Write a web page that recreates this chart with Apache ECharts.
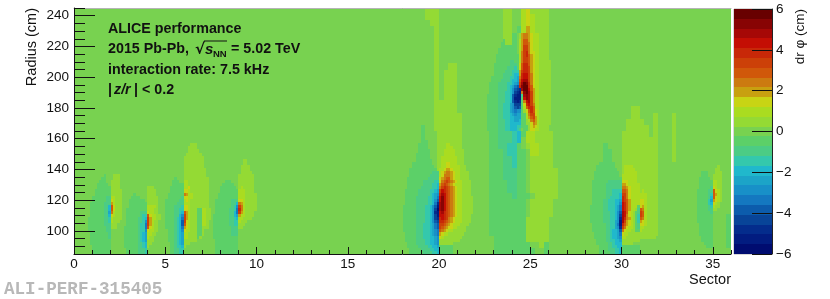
<!DOCTYPE html>
<html>
<head>
<meta charset="utf-8">
<style>html,body{margin:0;padding:0;background:#fff}#c{width:830px;height:299px}</style>
<script src="https://cdn.jsdelivr.net/npm/echarts@6/dist/echarts.min.js"></script>
</head>
<body>
<div id="c"></div>
<script>
// Axis ticks and labels
const sectorLabels = [0, 5, 10, 15, 20, 25, 30, 35];
const sectorMinorTicks = [0,1,2,3,4,5,6,7,8,9,10,11,12,13,14,15,16,17,18,19,20,21,22,23,24,25,26,27,28,29,30,31,32,33,34,35,36];
const radiusLabels = [100, 120, 140, 160, 180, 200, 220, 240];
const radiusMinorTicks = [85,90,95,100,105,110,115,120,125,130,135,140,145,150,155,160,165,170,175,180,185,190,195,200,205,210,215,220,225,230,235,240,245];
const drphiTicks = [-6, -4, -2, 0, 2, 4, 6];

// Colour bands of the z scale, one per 0.48 cm, from -12 to +12 bands
const bandWidth = 0.48;
const bandColors = ['#000c70','#021c80','#042c8c','#084498','#0c5cac','#1478c0','#1890c8','#1ca4c8','#20b8cc','#34c8ac','#4ccc84','#5cd068','#78d250','#94da34','#aadc20','#c8d414','#c8a010','#cc7a10','#d0580a','#cc4008','#c82808','#c40e04','#a60806','#880404','#680000'];

// Bin layout
const sectorMin = 0, sectorMax = 36, sectorStep = 0.125;
const radiusMin = 85, radiusMax = 245, radiusStep = 2;

// Values, in colour bands: '.' = 0, a..l = -1..-12, A..L = +1..+12.
// Each list is top row first, one character per sector bin.
const sector2Rows = [
".........a...AAA",
"........aa...AAA",
".......aaa..AAAA",
"......aaaaa.AAAA",
"......aaaaaaAAAA",
".....aaaaaaaAAAAA",
".....aaaaaaaAAAAA",
"....aaaaaabbBBAAA",
"....aaaaaabbCBAAA",
"...aaaaaabbbDBAAA",
"...aaaaaabbdFCAAA",
"...aaaaaabbdFCAAA",
"...aaaaaabbeEBAAA",
"...aaaaaabbdCBAAA",
"..aaaaaaabbcBAAAA",
"..aaaaaaabbcBAAA.",
"..aaaaaaabbbAAA..",
"..aaaaaaaabbAAA..",
"..aaaaaaaabb",
"...aaaaaaaab",
"...aaaaaaaab",
"...aaaaaaaaa",
"...aaaaaaaaa",
"....aaaaaaaa",
"....aaaaaaaa",
"....aaaaaaaa"];
const sector4Rows = [
"..........AAA",
"..........AAAA",
"....a.....AAAA",
"...aaaa...AAAAA",
"..aaaaaaa.AAAAA",
"..aaaaaaaaAAAAA",
"..aaaaaaaaBBBBA",
".aaaaaaaaaBBBAA",
".aaaaaabbbCBBAA",
".aaaaaabccFCBBAA",
".aaaaabbcdGDBBAA",
".aaaaabbcfGDBAA.",
".aaaaabccgGDBAA.",
"aaaaaabccgFCBAA.",
"aaaaaabccfCBBAA.",
"aaaaaabcdeBBAA..",
"aaaaaabcdeBAA...",
"aaaaaabcdeAAA...",
"aaaaaabbcdAA....",
"aaaaaabbcdA.....",
".aaaaabbbc......",
".aaaaabbbc......"];
const sector6Rows = [
"...........AAA",
"..........AAAA.",
"..........AAAAA",
".........AAAAAAA",
"........AAAAAAAAA",
"........AAAAAAAAA",
"........AAAAAAAAA",
"........AAAAAAAAA",
"........AAAAAAAAAA",
"........AAAAAAAAAA",
"........AAAAAAAAAA",
"....a...AAAAAAAAAAA",
"...aaa..BBAAAAAAAAA",
"...aaaaaBBAAAAAAAAA",
"..aaaaaaBBCAAAAAAAA",
"..aaaaaaCCBAAAAAAAA",
".aaaaaaaEDBBAAAAAAA",
".aaaaaabCCBBAAAAAAA",
"aaaaaabbBCBAAAAAAAA",
"aaaaabbbBBBAAAAAAAA",
"aaaabbbcCCBAAAAAAAA",
"aaaabbccCCBAAAaaBBAA",
"aaaabbcdFDBAAAaaBBAA",
"aaaabbdfGDBAAAaaBBAA",
"aaaabcdgGDBAAAaaBBAA",
"aaaabcdhGCBAAAaaBBA",
"aaaabcdhFCBAAAaaBBA",
"aaaabcdgDCBAAAaaAAA",
".aaabcdfCBBAAAaaA",
".aaabcdeBBAAAAaaA",
".aaabcdeBBAAAAaA",
".aaabcdeAAAAAA",
"..aabcdeAAA",
"..aabccdA",
"..aabbcc",
"..aabbcc"];
const sector9Rows = [
"..............AA",
"..............AA",
".............AAAA",
".............AAAA",
".............AAAAA",
"............AAAAAAA",
"............AAAAAAA",
"......aaa...AAAAAAA",
".....aaaaa..AAAAAAA",
"....aaaaaaa.ABAAAAA",
"....aaaaaaaaBBBAAAA",
"...aaaaaaaaaBBBAAAAA",
"...aaaaaaaaaBBBAAAAA",
"..aaaaaaabbbCCBAAAAA",
"..aaaaaaabbdEDBAAAAA",
"..aaaaaaabcfGEBAAAAA",
"..aaaaaabbcgHEBAAAAA",
"..aaaaaabbdgGDBAAAA",
".aaaaaaabbdeDBBAAAA",
".aaaaaaabbcdBBAAAA",
".aaaaaaabbccBAAA",
".aaaaaaabbccAAA",
".aaaaaaaabbbAA",
".aaaaaaaabbb",
".aaaaaaaabbb",
".aaaaaaaaaaa",
"..aaaaaaaaaa",
"..aaaaaaaaaa",
"..aaaaaaaaaa",
"..aaaaaaaaaa",
"..aaaaaaaaaa"];
// Upper part of sector 20, coarser bins (two sector bins, two radius bins per character)
const sector20UpperRows = [
".....AAA........",
".....AAA........",
"......AA........",
".......A........",
".......A........",
".......A........",
".......A........",
".......A........",
".......A........",
".......A..AA....",
".......A.AAA....",
".......A.AAA....",
".......A.AAA....",
".......A.AAA....",
".......A.AAA....",
".......AAAAA....",
".......AAAAA....",
".......AAAAAA...",
".......AAAAAA...",
"....a..AAAAAA..."];
const sector20Rows = [
"........aa.....AAAAAAAAAAA......",
"........aa.....AAAAAAAAAAA......",
"........aa.....AAAAAAAAAAA......",
"........aaa....AAAAAAAAAAA......",
".......aaaa....AAAABBAAAAA......",
".......aaaa....AAAABBBAAAA......",
".......aaaaa...AAABBBBBAAAA.....",
"......aaaaaa...AAABBBBBAAAA.....",
"......aaaaaa...AABBBBBBBAAA.....",
"......aaaaaaa..AABBBBBBBAAA.....",
"....aaaaaaaaa..AABBCCBBBAAA.....",
"....aaaaaaaaaa.AABBCCBBBBAAA....",
"...aaaaaaaaaaaaABBCDDCBBBAAA....",
"...aaaaaaaaaabbbBCDEEDCBBAAAA...",
"...aaaaaaaaabbbbBCEEEDCBBAAAA...",
"..aaaaaaaaabbbbbCDEFFDCBBAAAA...",
"..aaaaaaabbbbbccCEFGFEDCBBAAAA..",
"..aaaaaaabbbbccdDFGFEDCBBBAAAA..",
"..aaaaaabbbbbccdEGHGFEDCBBAAAA..",
".aaaaaabbbbbccdeGIHGFEDCBBAAAA..",
".aaaaaabbbbbcdefHJIGFEDCBBAAAA..",
".aaaaabbbbbccdegIKIGFEDCBBAAAAA.",
".aaaaabbbbbccdfhIKIGFEDCBBAAAAA.",
".aaaaabbbbbccdgjJKIGFEDCBBAAAAA.",
"aaaaaabbbbccdfhkJKIGFEDCBBAAAAA.",
"aaaaaabbbbccdfilJKIGFEDCBBAAAAA.",
"aaaaaabbbbccdfjkIJHGFEDCBBAAAAA.",
"aaaaaabbbbccdfikIIHGFEDCBBAAAA..",
"aaaaaabbbbccdfijHIHGEDCBBBAAAA..",
"aaaaaabbbbccdfhiHHGFEDCBBBAAAA..",
"aaaaaabbbcccdeghGGFEDCBBBAAAA...",
"aaaaaabbbcccdeghGFEDCCBBAAAA....",
"aaaaaabbbcccdefgFEDCBBAAAAAA....",
".aaaaabbbcccdefgDCBBAAAAAAA.....",
".aaaaabbbcccddefCBAAAAAAAA......",
".aaaaabbbbccddefAAAAAAAAA.......",
"..aaaabbbbccddefAAAAAA..........",
"..aaaaabbbbccddeaaaaaa..........",
"...aaaaabbbbccddaaaaaa..........",
"...aaaaaabbbbccdaaaaaa.........."];
// Coarser bins above and below the sector 25 core
const sector25TopRows = [
"....AA..BCAAAA....",
"....AA..BCBAAA....",
"....AA..BCBAAA....",
"....AA.aBDBAAA...."];
const sector25Rows = [
"........AAAAaa.ADEEDCBBBAAAA........",
"........AAAAaa.ADEEDCBBBAAAA........",
"........aAAAaa.BDFFDCBBBAAAA........",
".......aaAAAaa.BDFFECBBBAAAA........",
".......aaaaaaa.BDGGECBBBAAAA........",
"......aaaaaaaa.BDGGECBBBAAAA........",
"......aaaaaaaa.BEGHECCBBAAAA........",
".....aaaaaaaaaaBEGHFDCBBAAAA........",
".....aaaaaaaaaaBEGGFDCBBAAAA........",
".....aaaaaabbaaBEGGFDCBBAAAAA.......",
"....aaaaaaabbbaCFHHFDCBBAAAAA.......",
"....aaaaaabbbcaCFHHGDCBBAAAAA.......",
"....aaaaabbbcccDGHHGDCBBAAAAA.......",
"....aaaabbbbcddDHIIGECBBAAAAA.......",
"...aaaaabbbccdeEHIIGECBBAAAAA.......",
"...aaaabbbbcddeFIJJGECBBAAAAA.......",
"..aaaabbbbccdefGJLKHECBBAAAAA.......",
"..aaaabbbbcdeghHKLLHFCBBAAAAA.......",
"..aaaabbbbcdfhijJLLIFDBBAAAAA.......",
"..aaaabbbccdfijkEKLJGDBBAAAAA.......",
".aaaaabbbccdhjkkbJKJGDBBAAAAA.......",
".aaaaabbbccdhkkkaIKJGDBBAAAAA.......",
".aaaaabbbccdhjkjaEIJGDBBAAAAA.......",
".aaaaabbcccefiiiaCHIGEBBAAAAA.......",
".aaaaabbcccefhihaBFHHFBBAAAAA.......",
".aaaaabbcccefgffaACFHFCBAAAAA.......",
".aaaaabbcccdefeeaaBEGGCBAAAAA.......",
".aaaaabbcccddeeeaaBDFGDBAAAAA.......",
".aaaaabbbccddeedaaABEFDBAAAAA.......",
".aaaaabbbccdddddaaAACEDBAAAAA.......",
".aaaaabbbccdddccaaaACDCBAAAA........",
".aaaaabbbccdddcb.aaACCBBAAAA........"];
const sector25LowerRows = [
".aabbbcdaBBAAAA...",
".aabbbcd.BBAAAA...",
".aabbcca.ABBAAA...",
".aaabccaa.BBAAA...",
".aaabbcaa.AAAAA...",
".aaabbcaa.AAAAA...",
".aaabbbaa.AAAAAA..",
".aaabbbaa.AAAAAA..",
".aaaabbaa.AAAAAA..",
".aaaabbaa.AAAAAA..",
".aaaaabaaa.AAAAA..",
".aaaaaaaa.AAAAA...",
".aaaaaaaa.AAAAA...",
".aaaaaaaa.AAAAA...",
".aaaaaaaaAAAAA....",
".aaaaaaaaAAAAA....",
".aaaaaaaaAAAAA....",
"..aaaaaaaAAAAA....",
"..aaaaaaaa..Aa....",
"..aaaaaaaaa..a...."];
const sector30UpperRows = [
"........AA",
"........AA...A...A",
".......AAAA..A...A",
".......AAAAA.A...A",
"......AAAAAA.A...A",
"......AAAAAAAA...A",
"..a...AAAAAAAA...A",
"..aa..AAAAAAAA...A",
"..aa..AAAAAAAA...A"];
const sector30Rows = [
"......aaaaaaa...AAAAAAAAAAAAAAAA",
".....aaaaaaaa...ABBBBAAAAAAAAAAA",
".....aaaaaaaaa..ABBBBBAAAAAAAAAA",
"....aaaaaaaaaaa.ABBBBBBAAAAAAAAA",
"....aaaaaaaaaaa.BBBBBBBAAAAAAAAA",
"....aaaaaaaaaaaaBBBBBBBAAAAAAAAA",
"...aaaaaaabbbbbbCCCBBBBAAAAAAAAA",
"...aaaaaabbbbbbbDDCBBBBBAAAAAAAA",
"...aaaaaabbbbbbbEEDCBBBBAAAAAAAA",
"...aaaaaabbbccccFFECBBBBABAAAAAA",
"...aaaaaabbbcccdGGECBBBBBBBAAAAA",
"...aaaaaabbccccdHGECBBBBBBBAAAAA",
"...aaaaabbcccddeHGFDBBBBCCBAAAAA",
"...aaaaabbcccddfIHFDBBBBCCBAAAAA",
"..aaaaaabbcccdegIHFDBBBaCDBAAAAA",
"..aaaaaabbcccdegIHFDBBAbFEBAAAAA",
"..aaaaaabbbccdfhJIFCBAabGFBAAAAA",
"..aaaaaabbbccdfiJIECBAacGFBAAAAA",
"..aaaaaabbbccdfjJHEDBAacFEBAAAAA",
"..aaaaaabbbccefkJGDCBAacDCBAAAAA",
"...aaaaaabbccegkHFDCBAabCCBAAAAA",
"...aaaaaabbccefjGECBBAabBBAAAAAA",
"...aaaaaabbcddehECBBAAaaBAAAAAAA",
"....aaaaabbcddegCBBAAAAAAAAAAAAA",
"....aaaaabbcddefBBAAAAAAAAAAAAA.",
".....aaaabbccddeAAAAAAAA........",
".....aaaaabbcdddAAAAA...........",
"......aaaabbccddaaaaaaaa........",
"......aaaabbbccdaaaaaaaa........",
"......aaaaabbccdaaaaaaaa........"];
const sector35Rows = [
"..........A",
".........AA",
"...aaa...AAA",
"...aaa..AAAA",
"..aaaaa.AAAA",
"..aaaaaaBBAA",
"..aaaaaaBBAA",
"..aaaaabCBAA",
".aaaaabbFCBA",
".aaaaabcFDBA",
".aaaaabdFCBA",
".aaaaaceDCBA",
".aaaaacdCBA",
".aaaaabcBAA",
".aaaaabbAA",
".aaaaaab",
".aaaaaaa",
".aaaaaaa",
".aaaaaaa",
"..aaaaaa",
"..aaaaaa",
"..aaaaaa",
"..aaaaaa",
"...aaaaa",
"...aaaaa",
"....aaaa",
".....aaa"];
const sector36Rows = ["aa", "aa", "aa", "aa", "aa", "aa", "aa", "aa", "aa", "aa", "aa"];

// [first sector, lower radius of the first row, rows, sector bins per char, radius bins per row]
const patches = [
  [0.5, 135, sector2Rows, 1, 1],
  [2.75, 127, sector4Rows, 1, 1],
  [5, 155, sector6Rows, 1, 1],
  [7.5, 145, sector9Rows, 1, 1],
  [18, 241, sector20UpperRows, 2, 2],
  [18, 163, sector20Rows, 1, 1],
  [22.5, 241, sector25TopRows, 2, 2],
  [22.5, 227, sector25Rows, 1, 1],
  [22.5, 161, sector25LowerRows, 2, 2],
  [28.5, 177, sector30UpperRows, 2, 2],
  [28, 143, sector30Rows, 1, 1],
  [34, 141, sector35Rows, 1, 1],
  [35.75, 109, sector36Rows, 1, 1]
];

function bandOf(ch) {
  if (ch >= 'a' && ch <= 'l') return -(ch.charCodeAt(0) - 96);
  if (ch >= 'A' && ch <= 'L') return ch.charCodeAt(0) - 64;
  return 0;
}
const nCols = Math.round((sectorMax - sectorMin) / sectorStep);
const nRows = Math.round((radiusMax - radiusMin) / radiusStep);
const grid = [];
for (let r = 0; r < nRows; r++) grid.push(new Array(nCols).fill(0));
patches.forEach(function (p) {
  const c0 = Math.round((p[0] - sectorMin) / sectorStep);
  const r0 = Math.round((p[1] - radiusMin) / radiusStep);
  const cw = p[3], rh = p[4];
  p[2].forEach(function (row, i) {
    for (let j = 0; j < row.length; j++) {
      if (row[j] === '.') continue;
      for (let a = 0; a < rh; a++) {
        for (let b = 0; b < cw; b++) {
          const r = r0 - i * rh + a, c = c0 + j * cw + b;
          if (r >= 0 && r < nRows && c < nCols) grid[r][c] = bandOf(row[j]);
        }
      }
    }
  });
});
const cells = [];
grid.forEach(function (row, r) {
  row.forEach(function (b, c) {
    cells.push([sectorMin + c * sectorStep, radiusMin + r * radiusStep, +(b * bandWidth).toFixed(2)]);
  });
});
const scaleBands = bandColors.map(function (_, i) { return +((i - 12) * bandWidth).toFixed(2); });

function colorOf(v) {
  return bandColors[Math.max(0, Math.min(24, Math.round(v / bandWidth) + 12))];
}
function rect(api, x0, y0, x1, y1, fill) {
  const a = api.coord([x0, y1]);
  const b = api.coord([x1, y0]);
  const l = Math.round(a[0]), t = Math.round(a[1]);
  return { type: 'rect', shape: { x: l, y: t, width: Math.round(b[0]) - l, height: Math.round(b[1]) - t }, style: { fill: fill } };
}

const LABEL = { color: '#111', fontFamily: 'Liberation Sans', fontSize: 13.5 };
const chart = echarts.init(document.getElementById('c'), null, { renderer: 'canvas' });
const boldFont = 'bold 14.3px "Liberation Sans"';
function txt(x, y, text, font, fill) {
  return { type: 'text', x: x, y: y, z: 20, silent: true, style: { text: text, font: font || boldFont, fill: fill || '#111', verticalAlign: 'middle' } };
}
chart.setOption({
  animation: false,
  backgroundColor: '#fff',
  grid: [
    { left: 74, top: 8, width: 657, height: 246, containLabel: false },
    { left: 734, top: 9, width: 38, height: 245, containLabel: false, show: true, borderColor: '#b0b0b0', borderWidth: 1, backgroundColor: 'transparent' }
  ],
  xAxis: [
    { type: 'value', gridIndex: 0, min: sectorMin, max: sectorMax, position: 'bottom', z: 5, splitLine: { show: false },
      name: 'Sector', nameLocation: 'end', nameGap: 0, nameMoveOverlap: false,
      nameTextStyle: { align: 'right', verticalAlign: 'top', fontFamily: 'Liberation Sans', fontSize: 14.5, color: '#111', padding: [18, 0, 0, 0] },
      axisLine: { show: true, onZero: false, lineStyle: { color: '#111' } },
      axisTick: { show: true, inside: true, length: 7, customValues: sectorLabels, lineStyle: { color: '#111' } },
      axisLabel: Object.assign({ show: true, margin: 3, customValues: sectorLabels, showMinLabel: true, showMaxLabel: true }, LABEL) },
    { type: 'value', gridIndex: 0, min: sectorMin, max: sectorMax, position: 'bottom', z: 5, splitLine: { show: false },
      axisLine: { show: false, onZero: false },
      axisTick: { show: true, inside: true, length: 4, customValues: sectorMinorTicks, lineStyle: { color: '#111' } },
      axisLabel: { show: false } },
    { type: 'value', gridIndex: 0, min: sectorMin, max: sectorMax, position: 'top', z: 5, splitLine: { show: false },
      axisLine: { show: true, onZero: false, lineStyle: { color: '#b4b4b4' } }, axisTick: { show: false }, axisLabel: { show: false } },
    { type: 'value', gridIndex: 1, min: 0, max: 1, show: false, splitLine: { show: false } }
  ],
  yAxis: [
    { type: 'value', gridIndex: 0, min: radiusMin, max: radiusMax, position: 'left', z: 5, splitLine: { show: false },
      name: 'Radius (cm)', nameLocation: 'end', nameRotate: 90, nameGap: 0, nameMoveOverlap: false,
      nameTextStyle: { align: 'right', verticalAlign: 'bottom', fontFamily: 'Liberation Sans', fontSize: 14.5, color: '#111', padding: [0, 0, 35, 0] },
      axisLine: { show: true, onZero: false, lineStyle: { color: '#111' } },
      axisTick: { show: true, inside: true, length: 21, customValues: radiusLabels, lineStyle: { color: '#111' } },
      axisLabel: Object.assign({ show: true, margin: 5, customValues: radiusLabels }, LABEL) },
    { type: 'value', gridIndex: 0, min: radiusMin, max: radiusMax, position: 'left', z: 5, splitLine: { show: false },
      axisLine: { show: false, onZero: false },
      axisTick: { show: true, inside: true, length: 11, customValues: radiusMinorTicks, lineStyle: { color: '#111' } },
      axisLabel: { show: false } },
    { type: 'value', gridIndex: 1, min: -6, max: 6, position: 'right', z: 5, splitLine: { show: false },
      name: 'dr φ (cm)', nameLocation: 'end', nameRotate: 90, nameGap: 0, nameMoveOverlap: false,
      nameTextStyle: { align: 'right', verticalAlign: 'top', fontFamily: 'Liberation Sans', fontSize: 13.5, color: '#111', padding: [21, 0, 0, 0] },
      axisLine: { show: true, onZero: false, lineStyle: { color: '#222' } },
      axisTick: { show: true, inside: true, length: 20, customValues: drphiTicks, lineStyle: { color: '#111' } },
      axisLabel: Object.assign({ show: true, margin: 4, customValues: drphiTicks, formatter: function (v) { return v < 0 ? '\u2212' + (-v) : '' + v; } }, LABEL) }
  ],
  series: [
    { type: 'custom', coordinateSystem: 'cartesian2d', xAxisIndex: 0, yAxisIndex: 0, z: 1, clip: true, silent: true, progressive: 0,
      encode: { x: 0, y: 1 }, data: cells,
      renderItem: function (params, api) {
        const s = api.value(0), r = api.value(1);
        return rect(api, s, r, s + sectorStep, r + radiusStep, colorOf(api.value(2)));
      } },
    { type: 'custom', coordinateSystem: 'cartesian2d', xAxisIndex: 3, yAxisIndex: 2, z: 1, clip: true, silent: true,
      encode: { y: 0 }, data: scaleBands.map(function (v) { return [v]; }),
      renderItem: function (params, api) {
        const v = api.value(0);
        return rect(api, 0, v - bandWidth / 2, 1, v + bandWidth / 2, colorOf(v));
      } }
  ],
  graphic: [
    txt(108, 29, 'ALICE performance'),
    txt(108, 49, '2015 Pb-Pb,'),
    txt(195, 50, '\u221A', 'bold 15px "DejaVu Sans"'),
    { type: 'line', z: 20, silent: true, shape: { x1: 204, y1: 41, x2: 227, y2: 41 }, style: { stroke: '#111', lineWidth: 1 } },
    txt(205, 50, 's', 'italic bold 15px "Liberation Sans"'),
    txt(213, 54, 'NN', 'bold 9.5px "Liberation Sans"'),
    txt(231, 49, '= 5.02 TeV'),
    txt(108, 70, 'interaction rate: 7.5 kHz'),
    txt(108, 90, '|', boldFont),
    txt(114, 90, 'z/r', 'italic bold 14.3px "Liberation Sans"'),
    txt(134, 90, '|', boldFont),
    txt(142, 90, '< 0.2'),
    txt(4, 290, 'ALI-PERF-315405', 'bold 17.6px "Liberation Mono"', '#b8b8b8')
  ]
});
</script>
</body>
</html>
